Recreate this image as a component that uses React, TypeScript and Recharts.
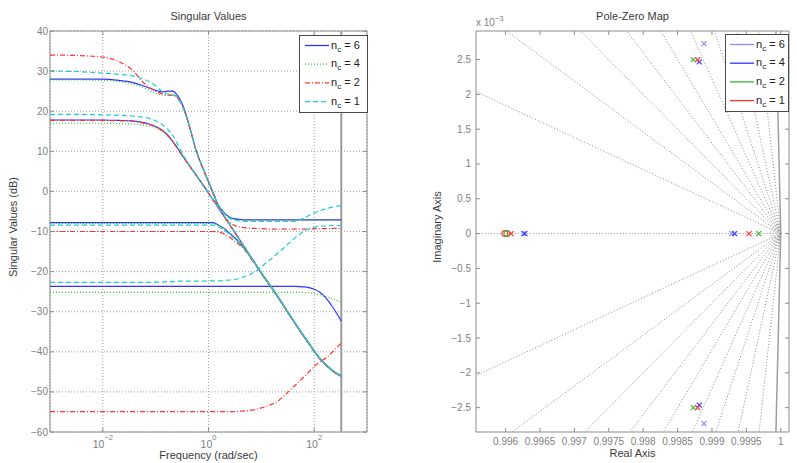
import React from 'react';
import {
  LineChart,
  Line,
  XAxis,
  YAxis,
  CartesianGrid,
  ReferenceLine,
  ReferenceArea,
  ReferenceDot,
  Legend,
  ScatterChart,
  Scatter,
} from 'recharts';

const FONT = '"Liberation Sans", Arial, Helvetica, sans-serif';
const BOX = '#8c8c8c';
const TICK = '#808080';
const DARK = '#3a3a3a';
const GRID = '#a0a0a0';

// ---------- singular values (dB) ----------
const freq = [0.001, 0.003, 0.01, 0.02, 0.036, 0.056, 0.075, 0.1, 0.135, 0.17, 0.21, 0.25, 0.33, 0.45, 0.58, 0.8, 1, 1.2, 1.5, 2, 2.5, 3, 4, 5.2, 7, 10, 15, 20, 30, 45, 60, 80, 100, 130, 170, 220, 270, 326];

// n_c = 6
const b1 = [28.0, 28.0, 28.0, 27.7, 27.2, 26.4, 25.8, 25.2, 24.8, 25.0, 25.0, 24.2, 21.3, 15.6, 10.3, 5.5, 2.4, -0.1, -3.2, -5.4, -6.4, -6.8, -7.0, -7.1, -7.1, -7.1, -7.1, -7.1, -7.1, -7.1, -7.1, -7.1, -7.1, -7.1, -7.1, -7.1, -7.1, -7.1];
const b2 = [17.8, 17.8, 17.8, 17.7, 17.6, 17.2, 16.8, 16.2, 15.2, 14.0, 12.5, 11.1, 8.7, 6.2, 4.1, 1.5, -0.4, -2.0, -3.8, -6.3, -8.2, -9.8, -12.3, -14.6, -17.2, -20.3, -23.6, -26.0, -29.6, -33.1, -35.6, -37.9, -39.8, -41.7, -43.3, -44.6, -45.4, -46.0];
const b3 = [-7.8, -7.8, -7.8, -7.8, -7.8, -7.8, -7.8, -7.8, -7.8, -7.8, -7.8, -7.8, -7.8, -7.8, -7.8, -7.8, -7.8, -7.8, -8.3, -9.3, -10.4, -11.3, -13.0, -14.9, -17.3, -20.4, -23.7, -26.1, -29.7, -33.2, -35.7, -38.0, -39.9, -41.8, -43.4, -44.7, -45.5, -46.1];
const b4 = [-23.7, -23.7, -23.7, -23.7, -23.7, -23.7, -23.7, -23.7, -23.7, -23.7, -23.7, -23.7, -23.7, -23.7, -23.7, -23.7, -23.7, -23.7, -23.7, -23.7, -23.7, -23.7, -23.7, -23.7, -23.7, -23.7, -23.7, -23.7, -23.7, -23.7, -23.8, -24.0, -24.4, -25.2, -26.7, -28.7, -30.5, -32.3];

// n_c = 4
const g1 = [27.8, 27.8, 27.7, 27.4, 26.8, 26.0, 25.2, 24.5, 24.0, 23.9, 24.1, 23.7, 21.0, 15.5, 10.4, 5.6, 2.5, 0.0, -3.1, -5.3, -6.4, -6.9, -7.1, -7.2, -7.2, -7.2, -7.2, -7.2, -7.2, -7.2, -7.2, -7.2, -7.2, -7.2, -7.2, -7.2, -7.2, -7.2];
const g2 = [17.0, 17.0, 17.0, 16.9, 16.8, 16.6, 16.3, 15.8, 14.9, 13.8, 12.4, 11.0, 8.7, 6.2, 4.1, 1.6, -0.3, -1.9, -3.7, -6.2, -8.1, -9.7, -12.2, -14.5, -17.1, -20.2, -23.5, -25.9, -29.5, -33.0, -35.5, -37.8, -39.7, -41.6, -43.2, -44.5, -45.3, -45.9];
const g3 = [-8.0, -8.0, -8.0, -8.0, -8.0, -8.0, -8.0, -8.0, -8.0, -8.0, -8.0, -8.0, -8.0, -8.0, -8.0, -8.0, -8.0, -8.0, -8.5, -9.4, -10.5, -11.4, -13.0, -14.8, -17.2, -20.3, -23.6, -26.0, -29.6, -33.1, -35.6, -37.9, -39.8, -41.7, -43.3, -44.6, -45.4, -46.0];
const g4 = [-25.2, -25.2, -25.2, -25.2, -25.2, -25.2, -25.2, -25.2, -25.2, -25.2, -25.2, -25.2, -25.2, -25.2, -25.2, -25.2, -25.2, -25.2, -25.2, -25.2, -25.2, -25.2, -25.2, -25.2, -25.2, -25.2, -25.2, -25.2, -25.2, -25.2, -25.2, -25.3, -25.5, -25.8, -26.3, -26.8, -27.2, -27.6];

// n_c = 2
const r1 = [34.0, 33.9, 33.5, 32.4, 30.3, 27.4, 26.0, 25.0, 24.3, 24.0, 24.0, 23.5, 20.9, 15.5, 10.2, 5.4, 2.2, -0.4, -3.7, -6.4, -7.7, -8.4, -8.9, -9.1, -9.2, -9.3, -9.4, -9.4, -9.4, -9.4, -9.4, -9.4, -9.3, -9.3, -9.3, -9.2, -9.2, -9.2];
const r2 = [17.7, 17.7, 17.7, 17.6, 17.5, 17.1, 16.7, 16.1, 15.1, 13.9, 12.4, 11.0, 8.6, 6.1, 4.0, 1.4, -0.5, -2.1, -3.9, -6.4, -8.3, -9.9, -12.4, -14.7, -17.3, -20.4, -23.7, -26.1, -29.7, -33.2, -35.7, -38.0, -39.9, -41.8, -43.4, -44.7, -45.5, -46.1];
const r3 = [-10.0, -10.0, -10.0, -10.0, -10.0, -10.0, -10.0, -10.0, -10.0, -10.0, -10.0, -10.0, -10.0, -10.0, -10.0, -10.0, -10.0, -10.0, -10.1, -10.6, -11.4, -12.2, -13.5, -15.1, -17.5, -20.5, -23.8, -26.2, -29.8, -33.3, -35.8, -38.1, -40.0, -41.9, -43.5, -44.8, -45.6, -46.2];
const r4 = [-54.9, -54.9, -54.9, -54.9, -54.9, -54.9, -54.9, -54.9, -54.9, -54.9, -54.9, -54.9, -54.9, -54.9, -54.9, -54.9, -54.9, -54.9, -54.9, -54.9, -54.9, -54.9, -54.8, -54.7, -54.5, -54.0, -53.2, -52.4, -50.4, -48.2, -46.6, -45.0, -43.6, -42.5, -41.5, -40.1, -38.9, -37.8];

// n_c = 1
const c1 = [30.0, 29.9, 29.5, 29.2, 28.8, 28.1, 27.4, 26.3, 24.9, 24.3, 24.1, 23.6, 20.9, 15.5, 10.3, 5.5, 2.4, -0.1, -3.3, -5.6, -6.7, -7.1, -7.4, -7.5, -7.5, -7.5, -7.5, -7.5, -7.5, -7.4, -6.8, -6.0, -5.4, -4.8, -4.3, -3.9, -3.7, -3.6];
const c2 = [19.2, 19.2, 19.1, 19.0, 18.8, 18.5, 18.2, 17.6, 16.6, 15.4, 14.0, 12.2, 9.1, 6.3, 4.1, 1.5, -0.4, -2.0, -3.8, -6.3, -8.2, -9.8, -12.3, -14.6, -17.2, -20.3, -23.6, -26.0, -29.6, -33.1, -35.6, -37.9, -39.8, -41.7, -43.3, -44.6, -45.4, -46.0];
const c3 = [-8.4, -8.4, -8.4, -8.4, -8.4, -8.4, -8.4, -8.4, -8.4, -8.4, -8.4, -8.4, -8.4, -8.4, -8.4, -8.4, -8.4, -8.4, -8.8, -9.7, -10.7, -11.6, -13.1, -14.9, -17.3, -20.4, -23.7, -26.1, -29.7, -33.2, -35.7, -38.0, -39.9, -41.8, -43.4, -44.7, -45.5, -46.1];
const c4 = [-22.7, -22.7, -22.7, -22.7, -22.7, -22.7, -22.7, -22.6, -22.6, -22.5, -22.5, -22.4, -22.4, -22.4, -22.4, -22.4, -22.3, -22.3, -22.3, -22.2, -22.1, -22.0, -21.6, -21.1, -20.3, -18.8, -16.9, -15.5, -13.5, -11.4, -10.2, -9.3, -8.9, -8.7, -8.6, -8.5, -8.5, -8.5];

const freqTicks = [0.01, 1, 100];
const freqTickExp = ['\u22122', '0', '2'];
const dbTicks = [-60, -50, -40, -30, -20, -10, 0, 10, 20, 30, 40];
const nyquist = 326;

const BLUE = '#3333ff';
const GREEN = '#22cc22';
const RED = '#ff3333';
const CYAN = '#22cccc';

const svSeries = [
  { key: 'b1', values: b1, color: BLUE, dash: undefined },
  { key: 'b2', values: b2, color: BLUE, dash: undefined },
  { key: 'b3', values: b3, color: BLUE, dash: undefined },
  { key: 'b4', values: b4, color: BLUE, dash: undefined },
  { key: 'g1', values: g1, color: GREEN, dash: '1 2' },
  { key: 'g2', values: g2, color: GREEN, dash: '1 2' },
  { key: 'g3', values: g3, color: GREEN, dash: '1 2' },
  { key: 'g4', values: g4, color: GREEN, dash: '1 2' },
  { key: 'r1', values: r1, color: RED, dash: '5 2 1 2' },
  { key: 'r2', values: r2, color: RED, dash: '5 2 1 2' },
  { key: 'r3', values: r3, color: RED, dash: '5 2 1 2' },
  { key: 'r4', values: r4, color: RED, dash: '5 2 1 2' },
  { key: 'c1', values: c1, color: CYAN, dash: '5 3' },
  { key: 'c2', values: c2, color: CYAN, dash: '5 3' },
  { key: 'c3', values: c3, color: CYAN, dash: '5 3' },
  { key: 'c4', values: c4, color: CYAN, dash: '5 3' },
];

const svData = freq.map((f, i) => {
  const row: any = { f };
  svSeries.forEach((s) => {
    row[s.key] = s.values[i];
  });
  return row;
});

const svLegend = [
  { label: '6', color: BLUE, dash: undefined },
  { label: '4', color: GREEN, dash: '1 2' },
  { label: '2', color: RED, dash: '5 2 1 2' },
  { label: '1', color: CYAN, dash: '5 3' },
];

// ---------- pole-zero map (imag in units of 1e-3) ----------
const polesNc6 = [
  { re: 0.99626, im: 0 },
  { re: 0.99929, im: 0 },
  { re: 0.998884, im: 2.73 },
  { re: 0.998884, im: -2.73 },
];
const polesNc4 = [
  { re: 0.99628, im: 0 },
  { re: 0.99933, im: 0 },
  { re: 0.998816, im: 2.465 },
  { re: 0.998816, im: -2.465 },
];
const polesNc2 = [
  { re: 0.99968, im: 0 },
  { re: 0.998729, im: 2.5 },
  { re: 0.998729, im: -2.5 },
];
const zerosNc2 = [{ re: 0.99602, im: 0 }];
const polesNc1 = [
  { re: 0.99608, im: 0 },
  { re: 0.99954, im: 0 },
  { re: 0.998792, im: 2.5 },
  { re: 0.998792, im: -2.5 },
];
const zerosNc1 = [{ re: 0.99599, im: 0 }];

const reTicks = [0.996, 0.9965, 0.997, 0.9975, 0.998, 0.9985, 0.999, 0.9995, 1];
const imTicks = [-2.5, -2, -1.5, -1, -0.5, 0, 0.5, 1, 1.5, 2, 2.5];
const reDomain = [0.99557, 1.00012];
const imDomain = [-2.85, 2.91];
// damping-ratio grid lines through z = 1, slope imag/(1 - real)
const zetaSlopes = [9.06, 4.6, 3.02, 2.22, 1.67, 1.3, 1.0, 0.73, 0.46];

const NC6 = '#8a8aff';
const NC4 = '#3333ff';
const NC2 = '#33b833';
const NC1 = '#ff3333';

const pzLegend = [
  { label: '6', color: NC6, dash: undefined },
  { label: '4', color: NC4, dash: undefined },
  { label: '2', color: NC2, dash: undefined },
  { label: '1', color: NC1, dash: undefined },
];

const minus = (v: number) => (v < 0 ? '\u2212' + String(-v) : String(v));

// ---------- ticks ----------
const makeLogTick = (top: number) => (props: any) => {
  const { x, y, payload } = props;
  const idx = freqTicks.indexOf(payload.value);
  return (
    <g>
      <line x1={x} x2={x} y1={y} y2={y - 4} stroke={BOX} />
      <line x1={x} x2={x} y1={top} y2={top + 4} stroke={BOX} />
      <text x={x} y={y + 16} textAnchor="middle" fill={TICK} fontSize={10.5} fontFamily={FONT}>
        10<tspan dy={-8} fontSize={7.5}>{freqTickExp[idx]}</tspan>
      </text>
    </g>
  );
};

const makeXTick = (top: number) => (props: any) => {
  const { x, y, payload } = props;
  return (
    <g>
      <line x1={x} x2={x} y1={y} y2={y - 4} stroke={BOX} />
      <line x1={x} x2={x} y1={top} y2={top + 4} stroke={BOX} />
      <text x={x} y={y + 13} textAnchor="middle" fill={TICK} fontSize={10} fontFamily={FONT}>
        {String(payload.value)}
      </text>
    </g>
  );
};

const makeYTick = (right: number, gap: number) => (props: any) => {
  const { x, y, payload } = props;
  return (
    <g>
      <line x1={x} x2={x + 4} y1={y} y2={y} stroke={BOX} />
      <line x1={right} x2={right - 4} y1={y} y2={y} stroke={BOX} />
      <text x={x - gap} y={y + 3.5} textAnchor="end" fill={TICK} fontSize={10} fontFamily={FONT}>
        {minus(payload.value)}
      </text>
    </g>
  );
};

const LogTick = makeLogTick(31);
const DbTick = makeYTick(367, 2);
const ReTick = makeXTick(31);
const ImTick = makeYTick(389, 5);

// ---------- markers ----------
const xMark = (color: string) => (props: any) => {
  const { cx, cy } = props;
  return (
    <g>
      <line x1={cx - 2.5} y1={cy - 2.5} x2={cx + 2.5} y2={cy + 2.5} stroke={color} strokeWidth={1.1} />
      <line x1={cx - 2.5} y1={cy + 2.5} x2={cx + 2.5} y2={cy - 2.5} stroke={color} strokeWidth={1.1} />
    </g>
  );
};

const oMark = (color: string) => (props: any) => {
  const { cx, cy } = props;
  return <circle cx={cx} cy={cy} r={3} fill="none" stroke={color} strokeWidth={1.1} />;
};

const ArcShape = (props: any) => {
  const { cx, cy } = props;
  return (
    <g>
      {[2.5, 5, 7.5, 10].map((r) => (
        <path
          key={r}
          d={`M ${cx} ${cy - r} A ${r} ${r} 0 0 0 ${cx} ${cy + r}`}
          fill="none"
          stroke={GRID}
          strokeDasharray="1 1.2"
        />
      ))}
    </g>
  );
};

// ---------- legend ----------
const LegendBox = ({ items, width, x0, x1 }: any) => (
  <div
    style={{
      width,
      height: 78,
      boxSizing: 'border-box',
      border: '1px solid #4a4a4a',
      background: '#fff',
    }}
  >
    <svg width={width - 2} height={76} style={{ display: 'block' }}>
      {items.map((it: any, i: number) => {
        const y = 9.5 + i * 18.7;
        return (
          <g key={it.label}>
            <line x1={x0} x2={x1} y1={y} y2={y} stroke={it.color} strokeWidth={1.3} strokeDasharray={it.dash} />
            <text x={x1 + 2} y={y + 3} fontSize={11} fill="#222" fontFamily={FONT}>
              n<tspan dy={3} fontSize={8}>c</tspan>
              <tspan dy={-3}>{' = ' + it.label}</tspan>
            </text>
          </g>
        );
      })}
    </svg>
  </div>
);

const App = () => {
  return (
    <div style={{ position: 'absolute', left: 0, top: 0, width: 797, height: 463, background: '#fff' }}>
      <div style={{ position: 'absolute', left: 0, top: 0 }}>
        <LineChart width={400} height={463} data={svData} margin={{ top: 31, right: 33, bottom: 30, left: 49 }}>
          <CartesianGrid stroke={GRID} strokeDasharray="1 2" />
          <XAxis
            dataKey="f"
            type="number"
            scale="log"
            domain={[0.001, 1000]}
            ticks={freqTicks}
            interval={0}
            allowDataOverflow
            height={1}
            tickSize={0}
            tickMargin={0}
            axisLine={false}
            tickLine={false}
            tick={LogTick}
          />
          <YAxis
            type="number"
            domain={[-60, 40]}
            ticks={dbTicks}
            interval={0}
            allowDataOverflow
            width={1}
            tickSize={0}
            tickMargin={0}
            axisLine={false}
            tickLine={false}
            tick={DbTick}
          />
          <ReferenceLine x={nyquist} stroke="#9a9a9a" strokeWidth={2} />
          {svSeries.map((s) => (
            <Line
              key={s.key}
              dataKey={s.key}
              type="monotone"
              stroke={s.color}
              strokeWidth={1.2}
              strokeDasharray={s.dash}
              dot={false}
              activeDot={false}
              isAnimationActive={false}
            />
          ))}
          <ReferenceArea x1={0.001} x2={1000} y1={-60} y2={40} fill="none" stroke={BOX} ifOverflow="visible" />
          <Legend
            layout="horizontal"
            align="center"
            verticalAlign="middle"
            wrapperStyle={{ left: 299, top: 35, width: 69, height: 78 }}
            content={() => <LegendBox items={svLegend} width={69} x0={5} x1={29} />}
          />
        </LineChart>
      </div>

      <div style={{ position: 'absolute', left: 400, top: 0 }}>
        <ScatterChart width={397} height={463} margin={{ top: 31, right: 8, bottom: 30, left: 75 }}>
          <XAxis
            dataKey="re"
            type="number"
            domain={reDomain}
            ticks={reTicks}
            interval={0}
            allowDataOverflow
            height={1}
            tickSize={0}
            tickMargin={0}
            axisLine={false}
            tickLine={false}
            tick={ReTick}
          />
          <YAxis
            dataKey="im"
            type="number"
            domain={imDomain}
            ticks={imTicks}
            interval={0}
            allowDataOverflow
            width={1}
            tickSize={0}
            tickMargin={0}
            axisLine={false}
            tickLine={false}
            tick={ImTick}
          />
          {zetaSlopes.map((s) => (
            <ReferenceLine
              key={'u' + s}
              segment={[{ x: 1, y: 0 }, { x: 0.99, y: s * 10 }]}
              ifOverflow="hidden"
              stroke="#8a8a8a"
              strokeDasharray="1 2"
            />
          ))}
          {zetaSlopes.map((s) => (
            <ReferenceLine
              key={'l' + s}
              segment={[{ x: 1, y: 0 }, { x: 0.99, y: -s * 10 }]}
              ifOverflow="hidden"
              stroke="#8a8a8a"
              strokeDasharray="1 2"
            />
          ))}
          <ReferenceLine
            segment={[{ x: 0.995, y: 0 }, { x: 1, y: 0 }]}
            ifOverflow="hidden"
            stroke="#8a8a8a"
            strokeDasharray="1 2"
          />
          <ReferenceLine segment={[{ x: 1, y: 0 }, { x: 0.99993, y: 2.91 }]} ifOverflow="hidden" stroke="#a0a0a0" strokeWidth={1.5} />
          <ReferenceLine segment={[{ x: 1, y: 0 }, { x: 0.99993, y: -2.85 }]} ifOverflow="hidden" stroke="#a0a0a0" strokeWidth={1.5} />
          <ReferenceDot x={1} y={0} r={1} shape={ArcShape} ifOverflow="visible" />
          <Scatter data={zerosNc1} shape={oMark(NC1)} isAnimationActive={false} />
          <Scatter data={zerosNc2} shape={oMark(NC2)} isAnimationActive={false} />
          <Scatter data={polesNc6} shape={xMark(NC6)} isAnimationActive={false} />
          <Scatter data={polesNc4} shape={xMark(NC4)} isAnimationActive={false} />
          <Scatter data={polesNc2} shape={xMark(NC2)} isAnimationActive={false} />
          <Scatter data={polesNc1} shape={xMark(NC1)} isAnimationActive={false} />
          <ReferenceArea
            x1={reDomain[0]}
            x2={reDomain[1]}
            y1={imDomain[0]}
            y2={imDomain[1]}
            fill="none"
            stroke={BOX}
            ifOverflow="visible"
          />
          <Legend
            layout="horizontal"
            align="center"
            verticalAlign="middle"
            wrapperStyle={{ left: 325, top: 34, width: 64, height: 79 }}
            content={() => <LegendBox items={pzLegend} width={64} x0={4} x1={28} />}
          />
        </ScatterChart>
      </div>

      <svg
        width={797}
        height={463}
        style={{ position: 'absolute', left: 0, top: 0, pointerEvents: 'none' }}
        fontFamily={FONT}
      >
        <text x={208.5} y={20} textAnchor="middle" fontSize={11} fill={DARK}>
          Singular Values
        </text>
        <text x={632.5} y={20} textAnchor="middle" fontSize={11} fill={DARK}>
          Pole-Zero Map
        </text>
        <text x={208.5} y={459} textAnchor="middle" fontSize={11} fill={DARK}>
          Frequency (rad/sec)
        </text>
        <text x={632.5} y={457} textAnchor="middle" fontSize={11} fill={DARK}>
          Real Axis
        </text>
        <text x={17} y={227} textAnchor="middle" fontSize={11} fill={DARK} transform="rotate(-90 17 227)">
          Singular Values (dB)
        </text>
        <text x={441} y={227} textAnchor="middle" fontSize={11} fill={DARK} transform="rotate(-90 441 227)">
          Imaginary Axis
        </text>
        <text x={476} y={26} fontSize={10} fill={TICK}>
          x 10<tspan dy={-5} fontSize={7.5}>{'\u22123'}</tspan>
        </text>
      </svg>
    </div>
  );
};

export default App;
